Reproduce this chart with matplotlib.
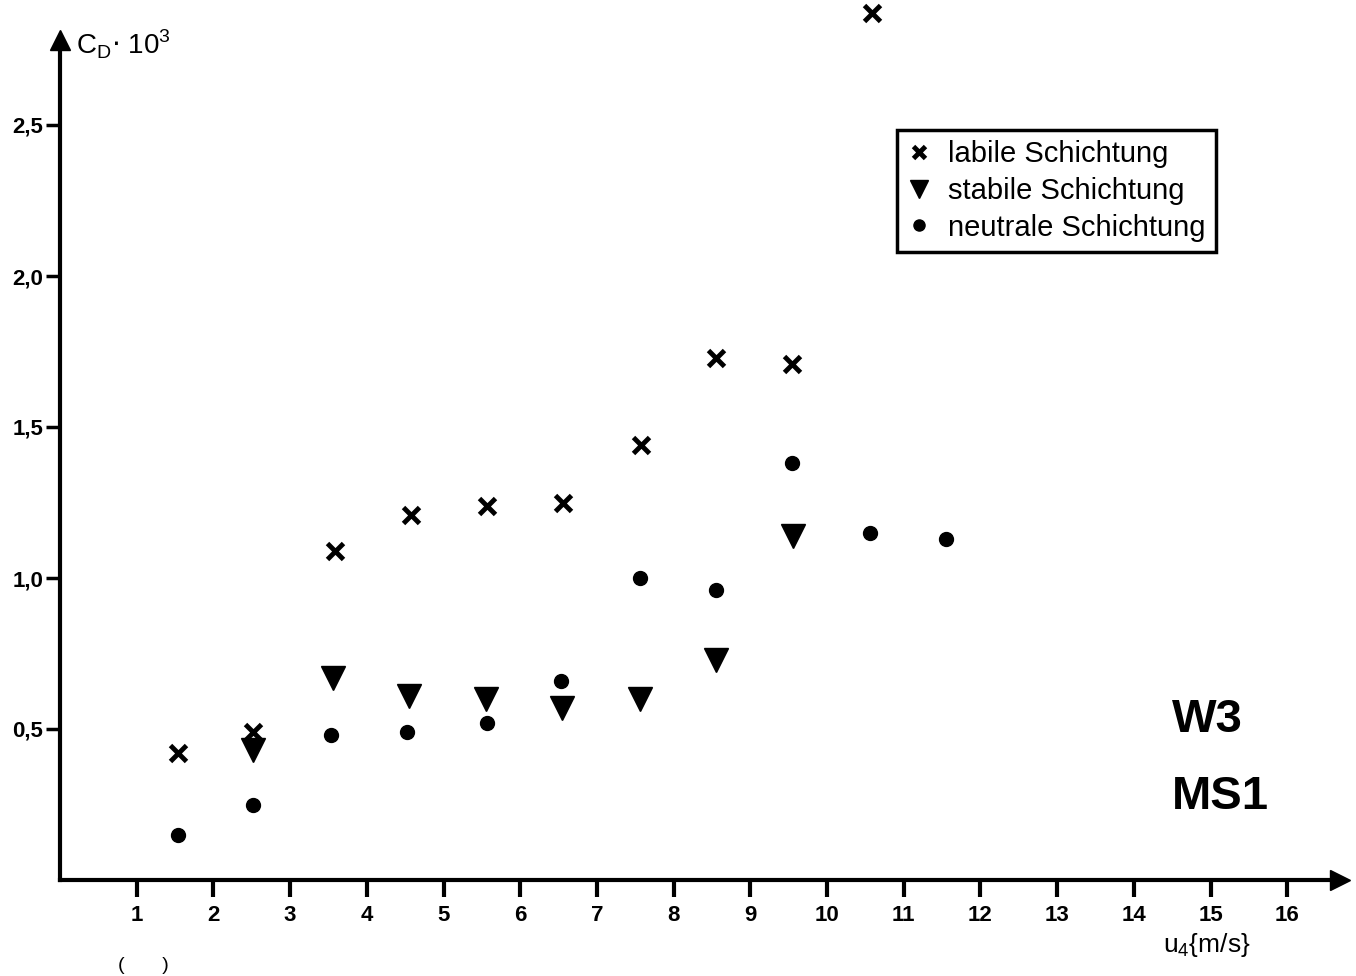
import matplotlib.pyplot as plt
import numpy as np

# wind speed u4 (m/s) and drag coefficient C_D * 10^3
u_labil = [1.54, 2.52, 3.59, 4.58, 5.57, 6.56, 7.57, 8.55, 9.54, 10.59]
cd_labil = [0.42, 0.49, 1.09, 1.21, 1.24, 1.25, 1.44, 1.73, 1.71, 2.87]

u_stabil = [2.52, 3.56, 4.55, 5.55, 6.55, 7.56, 8.55, 9.56]
cd_stabil = [0.43, 0.67, 0.61, 0.60, 0.57, 0.60, 0.73, 1.14]

u_neutral = [1.54, 2.52, 3.53, 4.52, 5.57, 6.53, 7.56, 8.55, 9.54, 10.56, 11.55]
cd_neutral = [0.15, 0.25, 0.48, 0.49, 0.52, 0.66, 1.00, 0.96, 1.38, 1.15, 1.13]

x_ticks = list(range(1, 17))
y_ticks = [0.5, 1.0, 1.5, 2.0, 2.5]
y_ticklabels = ["0,5", "1,0", "1,5", "2,0", "2,5"]

plt.rcParams['font.family'] = ['Liberation Sans', 'DejaVu Sans']

fig = plt.figure(figsize=(13.56, 9.76), dpi=100)
ax = fig.add_axes([60 / 1356, 96 / 976, 1280 / 1356, 840 / 976])

ax.plot(u_labil, cd_labil, 'x', color='black', ms=11, mew=3.5,
        label='labile Schichtung', clip_on=False)
ax.plot(u_stabil, cd_stabil, 'v', color='black', ms=17,
        label='stabile Schichtung', clip_on=False)
ax.plot(u_neutral, cd_neutral, 'o', color='black', ms=10,
        label='neutrale Schichtung', clip_on=False)

ax.set_xlim(0, 1280 / 76.7)
ax.set_ylim(0, 840 / 302)

for s in ['top', 'right']:
    ax.spines[s].set_visible(False)
for s in ['left', 'bottom']:
    ax.spines[s].set_linewidth(3)

# arrow heads on axes
ax.plot(1, 0, '>', color='black', ms=14, transform=ax.transAxes, clip_on=False)
ax.plot(0, 1, '^', color='black', ms=14, transform=ax.transAxes, clip_on=False)

ax.set_xticks(x_ticks)
ax.set_xticklabels([str(t) for t in x_ticks], fontsize=16, fontweight='bold')
ax.set_yticks(y_ticks)
ax.set_yticklabels(y_ticklabels, fontsize=16, fontweight='bold')
ax.tick_params(axis='x', direction='out', length=12, width=3, pad=6)
ax.tick_params(axis='y', direction='out', length=10, width=2.5, pad=2)

fig.text(76 / 1356, 1 - 44 / 976, r'C$_\mathregular{D}$$\cdot$ 10$^\mathregular{3}$',
         fontsize=20, va='center', ha='left')
fig.text(1163 / 1356, 1 - 945 / 976, r'u$_\mathregular{4}${m/s}',
         fontsize=19, va='center', ha='left')
fig.text(1172 / 1356, 1 - 720 / 976, 'W3', fontsize=34, fontweight='bold',
         va='center', ha='left')
fig.text(1172 / 1356, 1 - 797 / 976, 'MS1', fontsize=34, fontweight='bold',
         va='center', ha='left')
fig.text(118 / 1356, 2 / 976, '(       )', fontsize=14,
         va='bottom', ha='left')

leg = ax.legend(loc='upper left', bbox_to_anchor=(897 / 1356, 1 - 130 / 976),
                bbox_transform=fig.transFigure, borderaxespad=0,
                fancybox=False, framealpha=1, edgecolor='black',
                fontsize=21, handlelength=0.8, handletextpad=0.6,
                labelspacing=0.3, borderpad=0.35, markerscale=0.8)
leg.get_frame().set_linewidth(2.5)

fig.savefig('out.png', dpi=100)
